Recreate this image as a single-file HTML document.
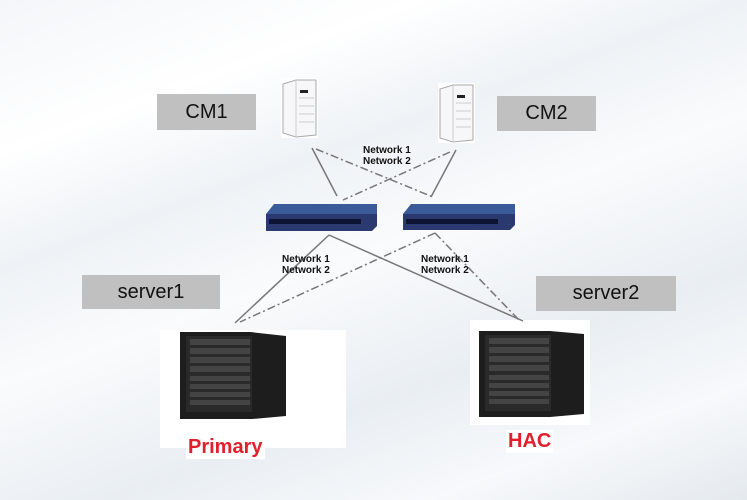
<!DOCTYPE html>
<html><head><style>
body{margin:0;width:747px;height:500px;overflow:hidden;font-family:"Liberation Sans",sans-serif;
background:linear-gradient(160deg,#f4f6f9 0%,#fff 20%,#eef2f6 35%,#fafbfc 50%,#e9eef3 70%,#f7f9fb 85%,#e4e9ee 100%);position:relative}
.lb{position:absolute;background:#c0c0c0;color:#111;font-size:20px;display:flex;align-items:center;justify-content:center}
.nt{position:absolute;font-size:10px;font-weight:bold;line-height:11px;color:#111}
.red{position:absolute;color:#e0202a;font-weight:bold;font-size:20px;background:#fff}
</style></head><body>
<div style="position:absolute;left:160px;top:330px;width:186px;height:118px;background:#fff"></div>
<div style="position:absolute;left:470px;top:320px;width:120px;height:105px;background:#fff"></div>
<div class="lb" style="left:157px;top:94px;width:99px;height:36px">CM1</div>
<div class="lb" style="left:497px;top:96px;width:99px;height:35px">CM2</div>
<div class="lb" style="left:82px;top:275px;width:138px;height:34px">server1</div>
<div class="lb" style="left:536px;top:276px;width:140px;height:35px">server2</div>
<svg width="747" height="500" style="position:absolute;left:0;top:0">
<g stroke="#777" stroke-width="1.5" fill="none">
<line x1="312" y1="148" x2="337" y2="196"/>
<line x1="456" y1="150" x2="431" y2="197"/>
<line x1="329" y1="235" x2="235" y2="323"/>
<line x1="329" y1="235" x2="523" y2="321"/>
<g stroke-dasharray="8,3,2,3">
<line x1="316" y1="149" x2="433" y2="197"/>
<line x1="450" y1="152" x2="343" y2="200"/>
<line x1="435" y1="233" x2="240" y2="322"/>
<line x1="435" y1="233" x2="519" y2="320"/>
</g></g>
<g>
<rect x="281" y="78" width="37" height="60" fill="#fff"/>
<path d="M283 84 L296 80 L316 80 L316 135 L296 137 L283 133 Z" fill="#f7f7f9" stroke="#aaa"/>
<path d="M296 80 L296 137" stroke="#ccc"/>
<rect x="300" y="90" width="8" height="3" fill="#222"/>
<g stroke="#ccc"><line x1="299" y1="98" x2="314" y2="98"/><line x1="299" y1="106" x2="314" y2="106"/><line x1="299" y1="114" x2="314" y2="114"/><line x1="299" y1="122" x2="314" y2="122"/></g>
<rect x="438" y="83" width="37" height="60" fill="#fff"/>
<path d="M440 89 L453 85 L473 85 L473 140 L453 142 L440 138 Z" fill="#f7f7f9" stroke="#aaa"/>
<path d="M453 85 L453 142" stroke="#ccc"/>
<rect x="457" y="95" width="8" height="3" fill="#222"/>
<g stroke="#ccc"><line x1="456" y1="103" x2="471" y2="103"/><line x1="456" y1="111" x2="471" y2="111"/><line x1="456" y1="119" x2="471" y2="119"/><line x1="456" y1="127" x2="471" y2="127"/></g>
</g>
<g>
<path d="M266 214 L274 204 L377 204 L377 215 Z" fill="#3b5a9a"/>
<path d="M266 214 L377 214 L377 226 L372 231 L266 231 Z" fill="#2a3a70"/>
<rect x="269" y="219" width="92" height="5" fill="#0d1333"/>
<path d="M403 214 L411 204 L515 204 L515 215 Z" fill="#3b5a9a"/>
<path d="M403 214 L515 214 L515 225 L510 230 L403 230 Z" fill="#2a3a70"/>
<rect x="406" y="219" width="92" height="5" fill="#0d1333"/>
</g>
<g>
<path d="M180 332 L250 332 L286 336 L286 416 L252 419 L180 419 Z" fill="#1d1d1d"/>
<rect x="186" y="336" width="66" height="76" fill="#2a2a2a"/>
<g fill="#444"><rect x="190" y="339" width="60" height="6"/><rect x="190" y="348" width="60" height="6"/><rect x="190" y="357" width="60" height="6"/><rect x="190" y="366" width="60" height="6"/><rect x="190" y="376" width="60" height="5"/><rect x="190" y="384" width="60" height="5"/><rect x="190" y="392" width="60" height="5"/><rect x="190" y="400" width="60" height="5"/></g>
<path d="M479 331 L550 331 L584 334 L584 414 L550 417 L479 417 Z" fill="#1d1d1d"/>
<rect x="485" y="335" width="66" height="76" fill="#2a2a2a"/>
<g fill="#444"><rect x="489" y="338" width="60" height="6"/><rect x="489" y="347" width="60" height="6"/><rect x="489" y="356" width="60" height="6"/><rect x="489" y="365" width="60" height="6"/><rect x="489" y="375" width="60" height="5"/><rect x="489" y="383" width="60" height="5"/><rect x="489" y="391" width="60" height="5"/><rect x="489" y="399" width="60" height="5"/></g>
</g>
</svg>
<div class="nt" style="left:363px;top:145px">Network 1<br>Network 2</div>
<div class="nt" style="left:282px;top:254px">Network 1<br>Network 2</div>
<div class="nt" style="left:421px;top:254px">Network 1<br>Network 2</div>
<div class="red" style="left:186px;top:436px;padding:0 2px">Primary</div>
<div class="red" style="left:506px;top:430px;padding:0 2px">HAC</div>
</body></html>
